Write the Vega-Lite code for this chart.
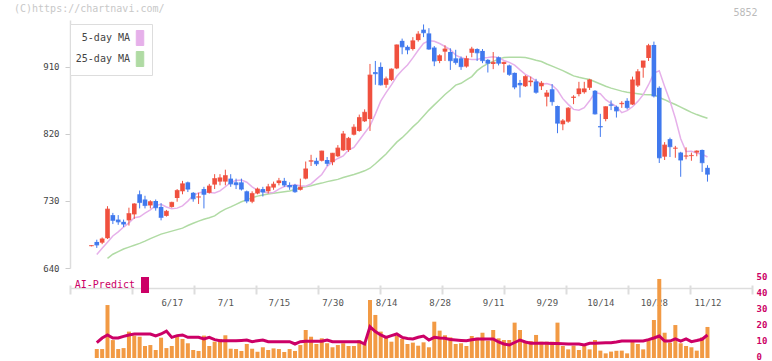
{
  "$schema": "https://vega.github.io/schema/vega-lite/v6.json",
  "width": 682,
  "height": 338,
  "autosize": {"type": "none"},
  "padding": {"left": 70, "top": 20, "right": 20, "bottom": 3},
  "background": "white",
  "title": {"text": "(C)https://chartnavi.com/", "anchor": "start", "frame": "group", "dx": -56, "dy": 10, "offset": 3, "font": "DejaVu Sans Mono", "fontSize": 10, "fontWeight": "normal", "color": "#c8c8c8"},
  "config": {"view": {"stroke": null}, "axis": {"grid": false, "labelFont": "DejaVu Sans Mono", "titleFont": "DejaVu Sans Mono"}, "legend": {"labelFont": "DejaVu Sans Mono"}},
  "datasets": {
    "px": [
      {"date":"5/27","open":669.5,"high":670.5,"low":669,"close":670,"ma5":null,"ma25":null,"volume":0,"ai":null},
      {"date":"5/28","open":675,"high":678,"low":667,"close":671,"ma5":658,"ma25":null,"volume":5.6,"ai":9.6},
      {"date":"5/29","open":674,"high":681,"low":672,"close":679,"ma5":666.5,"ma25":null,"volume":5.6,"ai":12.5},
      {"date":"5/30","open":680,"high":723,"low":679,"close":719,"ma5":674.5,"ma25":653,"volume":33.1,"ai":14.4},
      {"date":"6/2","open":711,"high":714,"low":699,"close":704,"ma5":683,"ma25":658.5,"volume":11.2,"ai":12.5},
      {"date":"6/3","open":705,"high":711,"low":698,"close":702,"ma5":688.6,"ma25":662,"volume":5.6,"ai":12.5},
      {"date":"6/4","open":702,"high":705,"low":695,"close":699,"ma5":695,"ma25":665.5,"volume":6.2,"ai":13.5},
      {"date":"6/5","open":704,"high":721,"low":697,"close":713,"ma5":700.6,"ma25":668,"volume":16.5,"ai":14.4},
      {"date":"6/6","open":712,"high":727,"low":706,"close":726,"ma5":707.4,"ma25":670.5,"volume":14,"ai":15},
      {"date":"6/9","open":739,"high":744,"low":720,"close":728,"ma5":708.8,"ma25":673,"volume":13.3,"ai":15},
      {"date":"6/10","open":732,"high":737,"low":720,"close":724,"ma5":713.6,"ma25":676,"volume":7.5,"ai":15},
      {"date":"6/11","open":724,"high":731,"low":720,"close":729,"ma5":718,"ma25":679.5,"volume":8.1,"ai":15},
      {"date":"6/12","open":730,"high":732,"low":717,"close":721,"ma5":724,"ma25":682.5,"volume":5,"ai":13.75},
      {"date":"6/13","open":722,"high":727,"low":704,"close":708,"ma5":725.6,"ma25":685.5,"volume":12.7,"ai":15},
      {"date":"6/16","open":710,"high":718,"low":709,"close":716,"ma5":722,"ma25":687.5,"volume":6.2,"ai":16.8},
      {"date":"6/17","open":722,"high":729,"low":721,"close":728,"ma5":719.6,"ma25":689.5,"volume":7.5,"ai":12.9},
      {"date":"6/18","open":734,"high":746,"low":729,"close":744,"ma5":720.4,"ma25":691.5,"volume":14,"ai":14},
      {"date":"6/19","open":743,"high":757,"low":739,"close":753,"ma5":723.4,"ma25":693.5,"volume":11.9,"ai":14.4},
      {"date":"6/20","open":755,"high":756,"low":742,"close":746,"ma5":729.8,"ma25":697,"volume":9.2,"ai":12.9},
      {"date":"6/23","open":741,"high":742,"low":729,"close":733,"ma5":737.4,"ma25":700,"volume":5,"ai":12.9},
      {"date":"6/24","open":735,"high":741,"low":726,"close":735.5,"ma5":740.8,"ma25":703,"volume":4.4,"ai":12.9},
      {"date":"6/25","open":746,"high":749,"low":720,"close":739,"ma5":742.3,"ma25":705.5,"volume":14,"ai":11.9},
      {"date":"6/26","open":741,"high":753,"low":740,"close":750,"ma5":741.3,"ma25":707.5,"volume":7.5,"ai":12.9},
      {"date":"6/27","open":752,"high":766,"low":746,"close":760,"ma5":740.7,"ma25":710,"volume":10.2,"ai":11.5},
      {"date":"6/30","open":756,"high":766,"low":751,"close":761,"ma5":743.5,"ma25":715,"volume":11.9,"ai":10.8},
      {"date":"7/1","open":756,"high":772,"low":751,"close":764,"ma5":749.1,"ma25":719,"volume":14.2,"ai":10.8},
      {"date":"7/2","open":760,"high":766,"low":749,"close":753,"ma5":754.8,"ma25":722,"volume":5.8,"ai":10.8},
      {"date":"7/3","open":755,"high":760,"low":746,"close":752,"ma5":757.6,"ma25":725.5,"volume":5.6,"ai":10.8},
      {"date":"7/4","open":755,"high":760,"low":744,"close":746,"ma5":758,"ma25":729,"volume":4.4,"ai":11},
      {"date":"7/7","open":743,"high":744,"low":727,"close":730,"ma5":755.2,"ma25":731.5,"volume":8.75,"ai":11.25},
      {"date":"7/8","open":729,"high":743,"low":727,"close":740,"ma5":749,"ma25":734.5,"volume":5.8,"ai":10.2},
      {"date":"7/9","open":740,"high":748,"low":739,"close":746,"ma5":744.2,"ma25":736.5,"volume":3.9,"ai":10.8},
      {"date":"7/10","open":746,"high":749,"low":736,"close":742,"ma5":742.8,"ma25":738,"volume":6.7,"ai":11.25},
      {"date":"7/11","open":743,"high":753,"low":740,"close":749,"ma5":740.8,"ma25":739.5,"volume":5,"ai":10.2},
      {"date":"7/14","open":748,"high":756,"low":745,"close":752.5,"ma5":741.4,"ma25":740.5,"volume":6,"ai":10.2},
      {"date":"7/15","open":754,"high":761,"low":751,"close":757,"ma5":745.9,"ma25":741.5,"volume":5.6,"ai":10.2},
      {"date":"7/16","open":757,"high":761,"low":749,"close":751.5,"ma5":749.3,"ma25":742.5,"volume":3.75,"ai":10.2},
      {"date":"7/17","open":751.5,"high":755,"low":745,"close":749,"ma5":750.4,"ma25":743.5,"volume":5.6,"ai":10.2},
      {"date":"7/18","open":751.5,"high":753,"low":741,"close":742.5,"ma5":751.8,"ma25":745.5,"volume":4.4,"ai":8.75},
      {"date":"7/22","open":745,"high":760,"low":744,"close":748.5,"ma5":750.5,"ma25":747.5,"volume":8.1,"ai":10.2},
      {"date":"7/23","open":760,"high":783,"low":759,"close":773,"ma5":749.7,"ma25":749,"volume":17.5,"ai":10.5},
      {"date":"7/24","open":783,"high":792,"low":777,"close":784,"ma5":752.9,"ma25":750.5,"volume":13.3,"ai":10.5},
      {"date":"7/25","open":784,"high":788,"low":777,"close":780,"ma5":759.4,"ma25":752.5,"volume":8.75,"ai":10.5},
      {"date":"7/28","open":784,"high":797.5,"low":783,"close":797,"ma5":765.6,"ma25":754,"volume":12.3,"ai":10.5},
      {"date":"7/29","open":785,"high":789,"low":777,"close":780.5,"ma5":776.5,"ma25":756,"volume":9.2,"ai":11.25},
      {"date":"7/30","open":782,"high":794.5,"low":778,"close":794,"ma5":782.9,"ma25":757.5,"volume":6.7,"ai":10.2},
      {"date":"7/31","open":790,"high":805,"low":789,"close":801,"ma5":787.1,"ma25":759,"volume":8.1,"ai":10.2},
      {"date":"8/1","open":798,"high":824,"low":797,"close":820,"ma5":790.5,"ma25":761.5,"volume":9.2,"ai":10.2},
      {"date":"8/4","open":798.5,"high":816,"low":796,"close":814,"ma5":798.5,"ma25":763.5,"volume":7.5,"ai":10.2},
      {"date":"8/5","open":819,"high":833,"low":818,"close":829,"ma5":801.9,"ma25":765.5,"volume":7.5,"ai":10.2},
      {"date":"8/6","open":824,"high":846,"low":823,"close":842,"ma5":811.6,"ma25":768,"volume":11.25,"ai":10.2},
      {"date":"8/7","open":837,"high":853,"low":836,"close":849,"ma5":821.2,"ma25":770.5,"volume":9.2,"ai":8.75},
      {"date":"8/8","open":840,"high":914,"low":824,"close":899,"ma5":830.8,"ma25":774,"volume":36.25,"ai":19.6},
      {"date":"8/12","open":903,"high":918,"low":886,"close":901,"ma5":846.6,"ma25":780,"volume":26.9,"ai":16.5},
      {"date":"8/13","open":910,"high":916,"low":885,"close":886,"ma5":864,"ma25":786.5,"volume":16.5,"ai":14.4},
      {"date":"8/14","open":886,"high":897,"low":882,"close":894,"ma5":875.4,"ma25":793,"volume":13.75,"ai":12.9},
      {"date":"8/15","open":892.5,"high":908,"low":891,"close":907,"ma5":885.8,"ma25":801,"volume":10.2,"ai":14},
      {"date":"8/18","open":908,"high":940,"low":907,"close":939.5,"ma5":897.4,"ma25":809,"volume":13.75,"ai":15},
      {"date":"8/19","open":945,"high":948,"low":927,"close":937,"ma5":905.5,"ma25":815,"volume":11.9,"ai":12.9},
      {"date":"8/20","open":937,"high":939,"low":927,"close":933,"ma5":912.7,"ma25":822,"volume":8.75,"ai":12.2},
      {"date":"8/21","open":934,"high":950,"low":932,"close":945,"ma5":922.1,"ma25":829.5,"volume":9.6,"ai":11.9},
      {"date":"8/22","open":946,"high":958,"low":944,"close":954,"ma5":932.3,"ma25":836,"volume":7.7,"ai":13},
      {"date":"8/25","open":960,"high":967,"low":950,"close":956,"ma5":941.7,"ma25":844,"volume":9.8,"ai":13.75},
      {"date":"8/26","open":955,"high":962,"low":933,"close":934,"ma5":945,"ma25":852,"volume":6.7,"ai":11.25},
      {"date":"8/27","open":936,"high":938,"low":911,"close":918,"ma5":944.4,"ma25":859,"volume":22.7,"ai":12.9},
      {"date":"8/28","open":918,"high":927,"low":915,"close":925,"ma5":941.4,"ma25":866,"volume":17.1,"ai":12.5},
      {"date":"8/29","open":930.5,"high":939,"low":918,"close":934,"ma5":937.4,"ma25":873,"volume":14.2,"ai":12.3},
      {"date":"9/1","open":930,"high":935,"low":906,"close":918.5,"ma5":933.4,"ma25":879,"volume":12.9,"ai":11.5},
      {"date":"9/2","open":921.5,"high":933,"low":913,"close":916,"ma5":925.9,"ma25":885.5,"volume":8.75,"ai":11.25},
      {"date":"9/3","open":921.5,"high":924,"low":906,"close":910.5,"ma5":922.3,"ma25":888,"volume":9.2,"ai":11},
      {"date":"9/4","open":910.5,"high":925,"low":909,"close":921,"ma5":920.8,"ma25":892.5,"volume":7.5,"ai":10.8},
      {"date":"9/5","open":929,"high":937,"low":923,"close":934,"ma5":920,"ma25":897,"volume":13.75,"ai":11.4},
      {"date":"9/8","open":934,"high":935,"low":918,"close":929,"ma5":920,"ma25":905,"volume":12.7,"ai":11.9},
      {"date":"9/9","open":931.5,"high":934,"low":915,"close":918.5,"ma5":922.1,"ma25":910.5,"volume":15.8,"ai":11.9},
      {"date":"9/10","open":919.5,"high":920.5,"low":902.5,"close":915,"ma5":922.6,"ma25":914.5,"volume":10.8,"ai":11.9},
      {"date":"9/11","open":914,"high":930,"low":907,"close":916,"ma5":923.5,"ma25":917.5,"volume":17.5,"ai":11.9},
      {"date":"9/12","open":923,"high":924,"low":912,"close":915,"ma5":922.5,"ma25":920.5,"volume":12.3,"ai":10},
      {"date":"9/16","open":914,"high":917,"low":902.5,"close":916,"ma5":918.7,"ma25":922.5,"volume":11.25,"ai":8.75},
      {"date":"9/17","open":912,"high":913,"low":898,"close":900,"ma5":916.1,"ma25":923,"volume":11.25,"ai":8.1},
      {"date":"9/18","open":902,"high":902.5,"low":880,"close":883,"ma5":912.4,"ma25":923,"volume":22.1,"ai":9.7},
      {"date":"9/19","open":888.5,"high":892.5,"low":869,"close":886,"ma5":906,"ma25":923,"volume":17.5,"ai":11.25},
      {"date":"9/22","open":884,"high":899,"low":883,"close":897,"ma5":900,"ma25":922.5,"volume":10.6,"ai":10},
      {"date":"9/24","open":889.5,"high":897,"low":884,"close":891,"ma5":896.4,"ma25":921,"volume":10.6,"ai":9.2},
      {"date":"9/25","open":890.5,"high":894,"low":874,"close":876,"ma5":891.4,"ma25":919,"volume":14.4,"ai":9.2},
      {"date":"9/26","open":884,"high":891,"low":879,"close":888,"ma5":886.6,"ma25":917.2,"volume":10.2,"ai":9.2},
      {"date":"9/29","open":870,"high":879,"low":857,"close":875,"ma5":887.6,"ma25":914,"volume":10.2,"ai":9.2},
      {"date":"9/30","open":880,"high":887,"low":858,"close":863.5,"ma5":885.4,"ma25":911,"volume":10.2,"ai":9},
      {"date":"10/1","open":857.5,"high":858,"low":821,"close":834.5,"ma5":878.7,"ma25":908,"volume":22.1,"ai":9},
      {"date":"10/2","open":833,"high":840,"low":825,"close":837.5,"ma5":867.4,"ma25":905,"volume":7.5,"ai":8.9},
      {"date":"10/3","open":836.5,"high":856,"low":835,"close":854.5,"ma5":859.7,"ma25":901.5,"volume":5.4,"ai":8.8},
      {"date":"10/6","open":868.5,"high":872,"low":860,"close":869.5,"ma5":853,"ma25":898,"volume":7.7,"ai":8.75},
      {"date":"10/7","open":873.5,"high":890,"low":870.5,"close":880.5,"ma5":851.9,"ma25":896,"volume":5,"ai":8.75},
      {"date":"10/8","open":876,"high":890,"low":874,"close":880.5,"ma5":855.3,"ma25":894.5,"volume":7.7,"ai":8.1},
      {"date":"10/9","open":882,"high":894,"low":879,"close":892.5,"ma5":864.5,"ma25":893,"volume":5.4,"ai":9.2},
      {"date":"10/10","open":878,"high":879,"low":846,"close":847,"ma5":875.5,"ma25":890,"volume":11.25,"ai":9.2},
      {"date":"10/14","open":830.5,"high":847,"low":816,"close":829.5,"ma5":874,"ma25":887,"volume":4.6,"ai":9.4},
      {"date":"10/15","open":840,"high":857,"low":837,"close":856.5,"ma5":866,"ma25":884,"volume":2.9,"ai":9.5},
      {"date":"10/16","open":859.5,"high":865,"low":852,"close":858.5,"ma5":861.2,"ma25":881.5,"volume":4,"ai":9.6},
      {"date":"10/17","open":856.5,"high":858,"low":842,"close":851,"ma5":856.8,"ma25":879.5,"volume":4.5,"ai":10},
      {"date":"10/20","open":860,"high":864,"low":855,"close":861,"ma5":848.5,"ma25":877.5,"volume":4.6,"ai":10.6},
      {"date":"10/21","open":864.5,"high":868,"low":853,"close":855.5,"ma5":851.3,"ma25":876,"volume":2.9,"ai":10.6},
      {"date":"10/22","open":859.5,"high":897,"low":859,"close":892.5,"ma5":856.5,"ma25":875,"volume":11.25,"ai":10.6},
      {"date":"10/23","open":885,"high":907,"low":883,"close":903.5,"ma5":863.7,"ma25":874,"volume":8.75,"ai":10.6},
      {"date":"10/24","open":909,"high":918,"low":895.5,"close":918,"ma5":872.7,"ma25":873,"volume":5.4,"ai":10.6},
      {"date":"10/27","open":922,"high":941,"low":918,"close":938.5,"ma5":886.1,"ma25":872.5,"volume":11.9,"ai":11.5},
      {"date":"10/28","open":939.5,"high":944,"low":869,"close":871,"ma5":901.6,"ma25":872.5,"volume":23.75,"ai":12.5},
      {"date":"10/29","open":882,"high":884,"low":781,"close":788,"ma5":904.7,"ma25":869,"volume":49.4,"ai":13.75},
      {"date":"10/30","open":789.5,"high":809,"low":785,"close":805,"ma5":883.8,"ma25":866,"volume":15.8,"ai":10.6},
      {"date":"10/31","open":813,"high":815,"low":789,"close":803,"ma5":864.1,"ma25":862.5,"volume":9.6,"ai":10.6},
      {"date":"11/4","open":800.5,"high":804,"low":788,"close":801,"ma5":841.1,"ma25":859.5,"volume":20.6,"ai":11.9},
      {"date":"11/5","open":795,"high":796,"low":762.5,"close":785,"ma5":813.6,"ma25":856,"volume":9.2,"ai":10.6},
      {"date":"11/6","open":790,"high":802,"low":786,"close":790.5,"ma5":796.4,"ma25":852.5,"volume":7.5,"ai":11.9},
      {"date":"11/7","open":790.5,"high":795,"low":784,"close":791,"ma5":796.9,"ma25":849,"volume":6.7,"ai":10.2},
      {"date":"11/10","open":795,"high":798,"low":790,"close":797,"ma5":794.1,"ma25":846,"volume":4.6,"ai":10.9},
      {"date":"11/11","open":798.5,"high":799,"low":769,"close":781.5,"ma5":792.9,"ma25":843.5,"volume":12.9,"ai":11.7},
      {"date":"11/12","open":774.5,"high":778,"low":756,"close":766,"ma5":789,"ma25":841,"volume":19.4,"ai":14.4}
    ]
  },
  "data": {"name": "px"},
  "layer": [
    {
      "encoding": {
        "x": {"field": "date", "type": "ordinal", "sort": null,
          "scale": {"type": "point", "padding": 0.655, "align": 0, "round": false,
            "domain": ["5/21","5/22","5/23","5/26","5/27","5/28","5/29","5/30","6/2","6/3","6/4","6/5","6/6","6/9","6/10","6/11","6/12","6/13","6/16","6/17","6/18","6/19","6/20","6/23","6/24","6/25","6/26","6/27","6/30","7/1","7/2","7/3","7/4","7/7","7/8","7/9","7/10","7/11","7/14","7/15","7/16","7/17","7/18","7/22","7/23","7/24","7/25","7/28","7/29","7/30","7/31","8/1","8/4","8/5","8/6","8/7","8/8","8/12","8/13","8/14","8/15","8/18","8/19","8/20","8/21","8/22","8/25","8/26","8/27","8/28","8/29","9/1","9/2","9/3","9/4","9/5","9/8","9/9","9/10","9/11","9/12","9/16","9/17","9/18","9/19","9/22","9/24","9/25","9/26","9/29","9/30","10/1","10/2","10/3","10/6","10/7","10/8","10/9","10/10","10/14","10/15","10/16","10/17","10/20","10/21","10/22","10/23","10/24","10/27","10/28","10/29","10/30","10/31","11/4","11/5","11/6","11/7","11/10","11/11","11/12","11/13","11/14","11/17","11/18","11/19","11/20","11/21"]},
          "axis": {"values": ["6/17","7/1","7/15","7/30","8/14","8/28","9/11","9/29","10/14","10/28","11/12"], "orient": "bottom", "offset": -70, "ticks": false, "tickSize": 0, "domainColor": "#dddddd", "domainWidth": 1.5, "labelFontSize": 9, "labelColor": "#555555", "labelPadding": 10, "labelAngle": 0, "title": null}}
      },
      "layer": [
        {
          "layer": [
            {
              "mark": {"type": "line", "strokeWidth": 1.5},
              "encoding": {
                "y": {"field": "ma25", "type": "quantitative", "scale": {"domain": [640, 973], "range": [248, 0], "nice": false, "zero": false},
                  "axis": {"values": [640, 730, 820, 910], "orient": "left", "title": null, "domainColor": "#dddddd", "domainWidth": 1.5, "tickColor": "#cccccc", "tickSize": 5, "labelPadding": 6, "labelFontSize": 9, "labelColor": "#444444"}},
                "stroke": {"datum": "25-day MA", "type": "nominal",
                  "scale": {"domain": ["5-day MA", "25-day MA"], "range": ["#e6b0ea", "#b0dba4"]},
                  "legend": {"orient": "none", "legendX": 0, "legendY": 4, "title": null, "padding": 6, "strokeColor": "#dddddd", "fillColor": "white",
                    "symbolType": "M-0.5,-1H0.5V1H-0.5Z", "symbolSize": 225, "symbolStrokeWidth": 1, "symbolOffset": 56, "labelAlign": "right", "labelOffset": -18,
                    "labelFontSize": 10, "labelColor": "#444444", "rowPadding": 1,
                    "encode": {"symbols": {"update": {"fill": {"scale": "stroke", "field": "value"}, "stroke": {"value": "#555555"}, "opacity": {"value": 1}}}}}}
              }
            },
            {
              "mark": {"type": "line", "strokeWidth": 1.5},
              "encoding": {
                "y": {"field": "ma5", "type": "quantitative"},
                "stroke": {"datum": "5-day MA", "type": "nominal"}
              }
            },
            {
              "mark": {"type": "rule", "strokeWidth": 1},
              "encoding": {
                "y": {"field": "low", "type": "quantitative"},
                "y2": {"field": "high"},
                "color": {"condition": {"test": "datum.close >= datum.open", "value": "#f0503e"}, "value": "#4079ee"}
              }
            },
            {
              "mark": {"type": "bar", "size": 4.6},
              "encoding": {
                "y": {"field": "open", "type": "quantitative"},
                "y2": {"field": "close"},
                "color": {"condition": {"test": "datum.close >= datum.open", "value": "#f0503e"}, "value": "#4079ee"}
              }
            },
            {
              "mark": {"type": "tick", "size": 4.6, "thickness": 1.2},
              "encoding": {
                "y": {"field": "close", "type": "quantitative"},
                "color": {"condition": {"test": "datum.close >= datum.open", "value": "#f0503e"}, "value": "#4079ee"}
              }
            }
          ]
        },
        {
          "layer": [
            {
              "mark": {"type": "bar", "size": 4, "color": "#f29a44"},
              "encoding": {
                "y": {"field": "volume", "type": "quantitative", "scale": {"domain": [0, 50], "range": [338, 258], "nice": false, "zero": true},
                  "axis": {"orient": "right", "values": [0, 10, 20, 30, 40, 50], "domain": false, "ticks": false, "tickSize": 0, "labelPadding": 4, "labelOffset": -2, "labelColor": "#cc0066", "labelFontSize": 9, "labelFontWeight": "bold",
                    "title": "5852", "titleX": 5, "titleY": -8, "titleAngle": 0, "titleAlign": "right", "titleBaseline": "middle", "titleColor": "#bbbbbb", "titleFontSize": 10, "titleFontWeight": "normal"}}
              }
            },
            {
              "mark": {"type": "line", "strokeWidth": 3},
              "encoding": {
                "y": {"field": "ai", "type": "quantitative"},
                "color": {"datum": "AI-Predict", "type": "nominal", "scale": {"range": ["#cc0066"]},
                  "legend": {"orient": "none", "legendX": 0, "legendY": 257, "title": null, "padding": 0,
                    "symbolType": "M-0.5,-1H0.5V1H-0.5Z", "symbolSize": 256, "symbolStrokeWidth": 0, "symbolOffset": 67, "labelAlign": "right", "labelOffset": -18,
                    "labelFontSize": 10, "labelColor": "#cc0066",
                    "encode": {"symbols": {"update": {"fill": {"value": "#cc0066"}, "opacity": {"value": 1}}}}}}
              }
            }
          ]
        }
      ],
      "resolve": {"scale": {"y": "independent"}, "axis": {"y": "independent"}}
    },
    {
      "data": {"values": []},
      "mark": {"type": "rule"},
      "encoding": {
        "x": {"field": "t", "type": "quantitative", "scale": {"domain": [0, 11], "nice": false, "zero": false},
          "axis": {"orient": "bottom", "offset": -73, "values": [0,1,2,3,4,5,6,7,8,9,10,11], "labels": false, "domain": false, "ticks": true, "tickSize": 9, "tickColor": "#dddddd", "tickWidth": 2, "title": null}}
      }
    }
  ],
  "resolve": {"scale": {"x": "independent"}, "axis": {"x": "independent"}}
}
